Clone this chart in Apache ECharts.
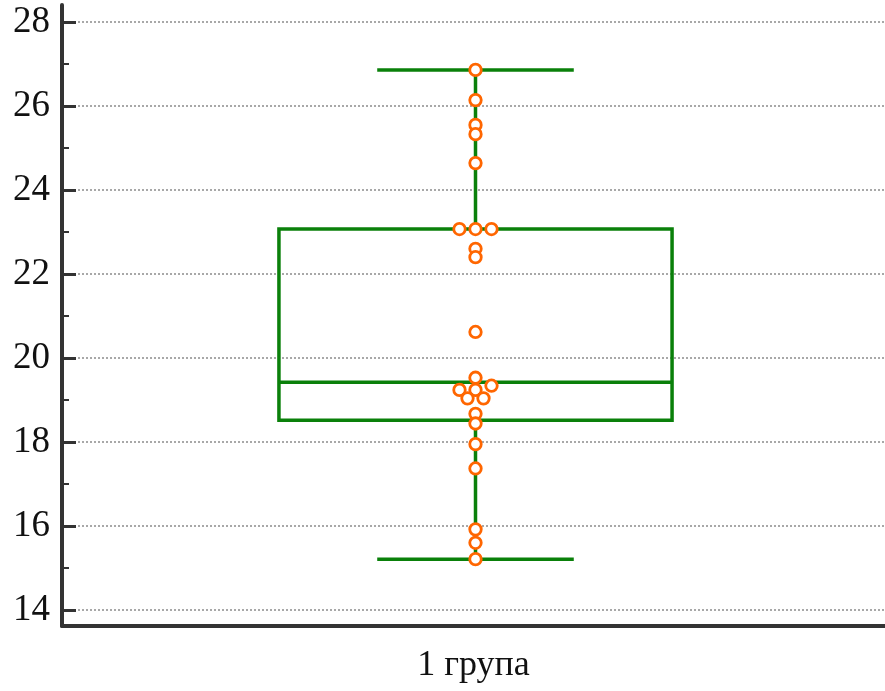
<!DOCTYPE html>
<html>
<head>
<meta charset="utf-8">
<style>
  html, body { margin: 0; padding: 0; background: #fff; }
  #chart { width: 885px; height: 691px; }
</style>
<script src="https://cdn.jsdelivr.net/npm/echarts@6/dist/echarts.min.js"></script>
</head>
<body>
<div id="chart"></div>
<script>
// Group name on the category axis
const categories = ['1 група'];

// Individual observations
const observations = [
  26.86, 26.14, 25.55, 25.33, 24.64, 23.07, 23.07, 23.07,
  22.60, 22.40, 20.62, 19.53, 19.34, 19.24, 19.24, 19.04,
  19.04, 18.67, 18.44, 17.95, 17.37, 15.92, 15.60, 15.21
];

// Box summary: [lower whisker, Q1, median, Q3, upper whisker]
const boxStats = [15.21, 18.52, 19.42, 23.07, 26.86];

// Value-axis tick labels
const yTicks = [14, 16, 18, 20, 22, 24, 26, 28];

const GREEN = '#0a800a';
const ORANGE = '#ff6600';
const AXIS = '#333333';
const FONT = '"Liberation Serif", "DejaVu Serif", serif';

// Spread near-equal values sideways so the dots do not sit on top of each other
function swarmOffsets(values, tol, stepPx) {
  const idx = values.map((v, i) => i).sort((a, b) => values[a] - values[b]);
  const offsets = new Array(values.length).fill(0);
  let group = [];
  const flush = () => {
    const n = group.length;
    group.forEach((k, j) => { offsets[k] = (j - (n - 1) / 2) * stepPx; });
    group = [];
  };
  idx.forEach(i => {
    if (group.length && values[i] - values[group[group.length - 1]] > tol) flush();
    group.push(i);
  });
  flush();
  return offsets;
}
const offsets = swarmOffsets(observations, 0.15, 16);

const chart = echarts.init(document.getElementById('chart'), null, { renderer: 'canvas' });

chart.setOption({
  animation: false,
  backgroundColor: '#ffffff',
  grid: [
    // plotting area, 14..28
    { left: 66, right: 0, top: 22, height: 588, containLabel: false },
    // frame: axis lines extending past the tick range
    { left: 62, right: 0, top: 5, height: 621, containLabel: false }
  ],
  xAxis: [
    {
      gridIndex: 0, type: 'category', data: categories,
      axisLine: { show: false }, axisTick: { show: false },
      axisLabel: { show: false }, splitLine: { show: false }
    },
    {
      gridIndex: 1, type: 'category', data: categories,
      axisLine: { show: true, lineStyle: { color: AXIS, width: 4 } },
      axisTick: { show: false },
      axisLabel: { show: true, margin: 22, fontFamily: FONT, fontSize: 36, color: '#111' },
      splitLine: { show: false }
    }
  ],
  yAxis: [
    {
      gridIndex: 0, type: 'value', min: yTicks[0], max: yTicks[yTicks.length - 1], interval: 2,
      offset: 4,
      axisLine: { show: false },
      axisTick: { show: true, inside: true, length: 14, lineStyle: { color: AXIS, width: 3 } },
      minorTick: { show: true, splitNumber: 2, length: 7, lineStyle: { color: AXIS, width: 2 } },
      axisLabel: { show: true, margin: 12, fontFamily: FONT, fontSize: 37, color: '#111' },
      splitLine: { show: true, lineStyle: { color: '#8c8c8c', type: [2, 2], width: 1.5 } }
    },
    {
      gridIndex: 1, type: 'value', min: 0, max: 1,
      axisLine: { show: true, lineStyle: { color: AXIS, width: 4 } },
      axisTick: { show: false }, axisLabel: { show: false }, splitLine: { show: false }
    }
  ],
  series: [
    {
      // box and whiskers
      type: 'custom',
      xAxisIndex: 0, yAxisIndex: 0,
      data: [[0].concat(boxStats)],
      renderItem: function (params, api) {
        const xi = api.value(0);
        const band = api.size([1, 0])[0];
        const half = band * 0.24;
        const capHalf = half / 2;
        const p = [1, 2, 3, 4, 5].map(d => api.coord([xi, api.value(d)]));
        const cx = p[0][0];
        const style = { stroke: GREEN, lineWidth: 3.5, fill: null };
        const line = (x1, y1, x2, y2) => ({ type: 'line', shape: { x1, y1, x2, y2 }, style });
        return {
          type: 'group',
          children: [
            line(cx, p[0][1], cx, p[1][1]),
            line(cx, p[3][1], cx, p[4][1]),
            line(cx - capHalf, p[0][1], cx + capHalf, p[0][1]),
            line(cx - capHalf, p[4][1], cx + capHalf, p[4][1]),
            { type: 'rect', shape: { x: cx - half, y: p[3][1], width: 2 * half, height: p[1][1] - p[3][1] },
              style: { stroke: GREEN, lineWidth: 3.5, fill: 'rgba(0,0,0,0)' } },
            line(cx - half, p[2][1], cx + half, p[2][1])
          ]
        };
      },
      z: 2
    },
    {
      // individual observations
      type: 'scatter',
      xAxisIndex: 0, yAxisIndex: 0,
      symbol: 'circle',
      symbolSize: 11.5,
      itemStyle: { color: '#ffffff', borderColor: ORANGE, borderWidth: 2.8, opacity: 1 },
      data: observations.map((v, i) => ({
        value: [categories[0], v],
        symbolOffset: [offsets[i], 0]
      })),
      z: 3
    }
  ]
});
</script>
</body>
</html>
